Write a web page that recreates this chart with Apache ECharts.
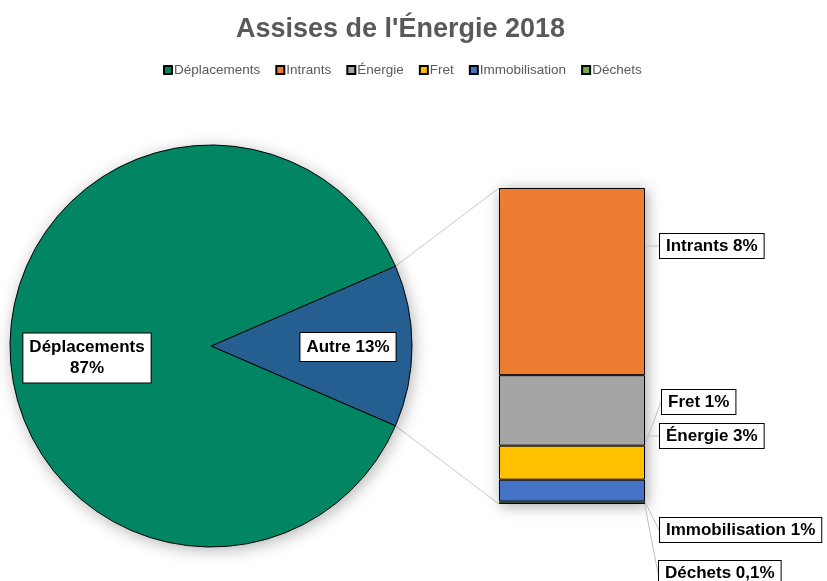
<!DOCTYPE html>
<html>
<head>
<meta charset="utf-8">
<script src="https://cdn.jsdelivr.net/npm/echarts@6/dist/echarts.min.js"></script>
<style>
  html, body { margin: 0; padding: 0; background: #fff; }
  #chart { width: 827px; height: 581px; }
</style>
</head>
<body>
<div id="chart"></div>
<script>
// données
const pieNames = ['Autre', 'Déplacements']
const pieValues = [13, 87]
const barNames = ['Déchets', 'Immobilisation', 'Fret', 'Énergie', 'Intrants'] // du bas vers le haut
const barValues = [0.1, 0.9, 1.4, 2.9, 7.7]
const legendOrder = ['Déplacements', 'Intrants', 'Énergie', 'Fret', 'Immobilisation', 'Déchets']

const colors = {
  'Déplacements': '#028563',
  'Autre': '#255E91',
  'Intrants': '#ED7D31',
  'Énergie': '#A5A5A5',
  'Fret': '#FFC000',
  'Immobilisation': '#4472C4',
  'Déchets': '#70AD47'
}

// mise en page
const pieCenter = [211, 346]
const pieR = 201
const grid = { left: 499, top: 188, width: 146, height: 316 }
// position des étiquettes de la barre (x gauche, y centre)
const barLabelPos = {
  'Intrants': [660, 246],
  'Énergie': [660, 436],
  'Fret': [662, 402],
  'Immobilisation': [660, 530],
  'Déchets': [659, 573]
}

const labelBox = {
  color: '#000',
  fontFamily: 'Liberation Sans',
  fontWeight: 'bold',
  fontSize: 17,
  backgroundColor: '#fff',
  borderColor: '#000',
  borderWidth: 1,
  padding: [4, 6, 3, 6]
}

function fmtPct (v) {
  return v < 0.5 ? v.toFixed(1).replace('.', ',') + '%' : Math.round(v) + '%'
}

const myChart = echarts.init(document.getElementById('chart'))

// lignes de liaison camembert -> barre
const half = pieValues[0] / 100 * 180 * Math.PI / 180
const edgeTop = [pieCenter[0] + pieR * Math.cos(half), pieCenter[1] - pieR * Math.sin(half)]
const edgeBot = [pieCenter[0] + pieR * Math.cos(half), pieCenter[1] + pieR * Math.sin(half)]

const barSeries = barNames.map((name, i) => ({
  name: name,
  type: 'bar',
  stack: 'autre',
  barWidth: '100%',
  data: [barValues[i]],
  itemStyle: { color: colors[name], borderColor: '#000', borderWidth: 1 },
  label: Object.assign({
    show: true,
    position: 'right',
    formatter: (p) => p.seriesName + ' ' + fmtPct(p.value)
  }, labelBox),
  labelLine: { show: true, lineStyle: { color: '#bfbfbf', width: 1 } },
  labelLayout: function (p) {
    const pos = barLabelPos[name]
    const r = p.rect
    const midY = r.y + r.height / 2
    return {
      x: pos[0],
      y: pos[1],
      align: 'left',
      verticalAlign: 'middle',
      labelLinePoints: [[r.x + r.width, midY], [pos[0] - 5, pos[1]], [pos[0], pos[1]]]
    }
  },
  z: 3
}))

myChart.setOption({
  backgroundColor: '#fff',
  animation: false,
  title: {
    text: "Assises de l'Énergie 2018",
    left: 231,
    top: 11,
    textStyle: { fontFamily: 'Liberation Sans', fontSize: 27, fontWeight: 'bold', color: '#595959' }
  },
  legend: {
    data: legendOrder,
    left: 158,
    top: 58,
    icon: 'rect',
    itemWidth: 8,
    itemHeight: 8,
    itemGap: 15,
    textStyle: { fontFamily: 'Liberation Sans', fontSize: 13.5, color: '#595959', padding: [0, 0, 0, -3] }
  },
  grid: grid,
  xAxis: { type: 'category', data: ['Autre'], show: false },
  yAxis: { type: 'value', min: 0, max: 13, show: false },
  graphic: [
    { type: 'line', shape: { x1: edgeTop[0], y1: edgeTop[1], x2: grid.left, y2: grid.top }, style: { stroke: '#c8c8c8', lineWidth: 1 }, z: 1 },
    { type: 'line', shape: { x1: edgeBot[0], y1: edgeBot[1], x2: grid.left, y2: grid.top + grid.height }, style: { stroke: '#c8c8c8', lineWidth: 1 }, z: 1 },
    {
      type: 'rect',
      shape: { x: grid.left, y: grid.top, width: grid.width, height: grid.height },
      style: { fill: '#fff', shadowBlur: 14, shadowColor: 'rgba(0,0,0,0.35)', shadowOffsetX: 2, shadowOffsetY: 2 },
      z: 1
    },
    {
      type: 'circle',
      shape: { cx: pieCenter[0], cy: pieCenter[1], r: pieR },
      style: { fill: '#fff', shadowBlur: 16, shadowColor: 'rgba(0,0,0,0.3)', shadowOffsetX: 2, shadowOffsetY: 3 },
      z: 1
    }
  ],
  series: [
    {
      type: 'pie',
      center: pieCenter,
      radius: pieR,
      startAngle: pieValues[0] / 100 * 180,
      clockwise: true,
      data: pieNames.map((n, i) => ({ name: n, value: pieValues[i], itemStyle: { color: colors[n] } })),
      itemStyle: { borderColor: '#000', borderWidth: 1 },
      label: Object.assign({
        show: true,
        position: 'inside',
        align: 'center',
        lineHeight: 21,
        formatter: (p) => p.name === 'Autre' ? p.name + ' ' + p.value + '%' : p.name + '\n' + p.value + '%'
      }, labelBox),
      labelLayout: function (p) {
        return p.dataIndex === 0 ? { x: 348, y: 347, align: 'center', verticalAlign: 'middle' } : { x: 87, y: 358, align: 'center', verticalAlign: 'middle' }
      },
      emphasis: { disabled: true },
      z: 2
    }
  ].concat(barSeries)
})
</script>
</body>
</html>
